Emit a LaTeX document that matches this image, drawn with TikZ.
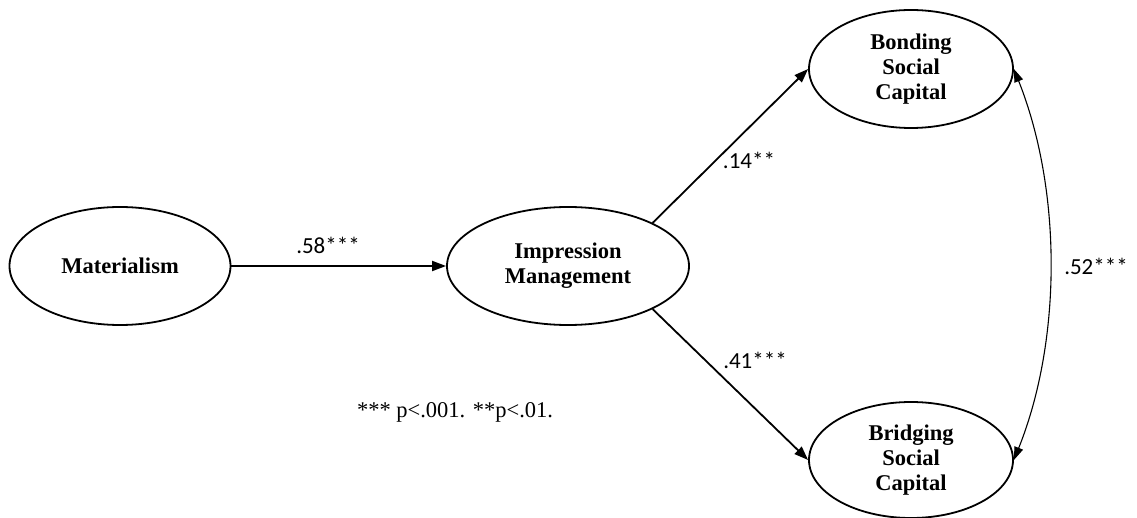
\documentclass[tikz,border=0pt]{standalone}
\usepackage{fontspec}
\setmainfont{Liberation Serif}
\newfontfamily\lblfont{Carlito}
\usetikzlibrary{shapes.geometric,arrows.meta}
\begin{document}
\begin{tikzpicture}[x=1pt,y=-1pt,
  latent/.style={ellipse,draw,line width=1.8pt,inner sep=0pt,align=center,
    font=\fontsize{22.5}{25}\selectfont\bfseries},
  path/.style={line width=1.8pt,-{Triangle[length=14pt,width=10pt]}},
  cov/.style={line width=1.1pt,{Triangle[length=13pt,width=9pt]}-{Triangle[length=13pt,width=9pt]}},
  coef/.style={font=\lblfont\fontsize{23}{26}\selectfont,inner sep=0pt}]
\useasboundingbox (0,0) rectangle (1137,518);
\node[latent,minimum width=221pt,minimum height=118pt] (mat) at (120,266) {Materialism};
\node[latent,minimum width=242pt,minimum height=118pt] (im) at (568,266) {Impression\\Management};
\node[latent,minimum width=204pt,minimum height=118pt] (bond) at (911,69) {Bonding\\Social\\Capital};
\node[latent,minimum width=204pt,minimum height=116pt] (bridge) at (911,460) {Bridging\\Social\\Capital};
\draw[path] (mat.east) -- (im.west);
\draw[path] (im.27) -- (bond.west);
\draw[path] (im.-27) -- (bridge.west);
\draw[cov] (bond.east) .. controls (1062,190) and (1062,340) .. (bridge.east);
\node[coef] (c1) at (328,245) {.58***};
\node[coef] (c2) at (749,160) {.14**};
\node[coef] (c3) at (755,360) {.41***};
\node[coef] (c4) at (1096,266) {.52***};
\node[font=\fontsize{22.5}{26}\selectfont,inner sep=0pt] (note) at (455,412) {*** p<.001. **p<.01.};
\end{tikzpicture}
\end{document}
